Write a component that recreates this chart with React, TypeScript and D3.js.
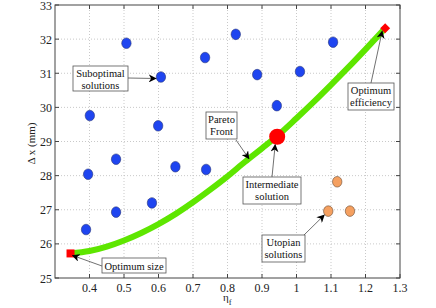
import React from "react";
import * as d3 from "d3";

// suboptimal solutions (eta_f, delta x)
const subEta = [0.507, 0.607, 0.401, 0.599, 0.735, 0.824, 0.886, 1.01, 1.106, 0.943, 0.396, 0.477, 0.39, 0.477, 0.581, 0.649, 0.738];
const subDx = [31.88, 30.89, 29.76, 29.46, 31.46, 32.14, 30.96, 31.05, 31.91, 30.05, 28.04, 28.48, 26.42, 26.93, 27.2, 28.26, 28.18];

// utopian solutions
const utoEta = [1.118, 1.092, 1.155];
const utoDx = [27.82, 26.96, 26.96];

// pareto front
const frontEta = [0.345, 0.4, 0.45, 0.5, 0.55, 0.6, 0.65, 0.7, 0.75, 0.8, 0.85, 0.9, 0.944, 1.0, 1.05, 1.1, 1.15, 1.2, 1.257];
const frontDx = [25.72, 25.79, 25.92, 26.1, 26.32, 26.58, 26.88, 27.22, 27.59, 27.98, 28.4, 28.8, 29.16, 29.68, 30.16, 30.66, 31.17, 31.7, 32.32];

const optSize = [0.345, 25.72];
const optEff = [1.257, 32.32];
const intermediate = [0.944, 29.14];

const xTicks = [0.4, 0.5, 0.6, 0.7, 0.8, 0.9, 1, 1.1, 1.2, 1.3];
const yTicks = [25, 26, 27, 28, 29, 30, 31, 32, 33];

const W = 436;
const H = 308;
const m = { left: 55, right: 36, top: 5, bottom: 30 };

export default function App() {
  const x = d3.scaleLinear().domain([0.3, 1.3]).range([m.left, W - m.right]);
  const y = d3.scaleLinear().domain([25, 33]).range([H - m.bottom, m.top]);
  const x0 = x.range()[0], x1 = x.range()[1];
  const y0 = y.range()[0], y1 = y.range()[1];

  const line = d3
    .line<number>()
    .x((d, i) => x(frontEta[i]))
    .y((d) => y(d))
    .curve(d3.curveMonotoneX);

  const serif = { fontFamily: '"Liberation Serif", "Times New Roman", Times, "DejaVu Serif", serif' };

  // annotation boxes with arrow start (ax, ay) and target point
  const notes = [
    { bx: 73, by: 66, bw: 55, bh: 25, lines: ["Suboptimal", "solutions"], ax: 128, ay: 78, tx: subEta[1], ty: subDx[1], dx: -5, dy: 1.5 },
    { bx: 206, by: 112, bw: 31, bh: 27, lines: ["Pareto", "Front"], ax: 236, ay: 140, tx: 0.862, ty: 28.5, dx: 0, dy: 0 },
    { bx: 243, by: 177, bw: 58, bh: 27, lines: ["Intermediate", "solution"], ax: 272, ay: 177, tx: intermediate[0], ty: intermediate[1], dx: -2, dy: 8 },
    { bx: 348, by: 83, bw: 46, bh: 27, lines: ["Optimum", "efficiency"], ax: 371, ay: 83, tx: optEff[0], ty: optEff[1], dx: -3, dy: 3 },
    { bx: 102, by: 258, bw: 64, bh: 15, lines: ["Optimum size"], ax: 102, ay: 266, tx: optSize[0], ty: optSize[1], dx: 2, dy: 2 },
    { bx: 262, by: 235, bw: 43, bh: 27, lines: ["Utopian", "solutions"], ax: 304, ay: 235, tx: utoEta[1], ty: utoDx[1], dx: -4, dy: 4 },
  ];

  return (
    <svg width={W} height={H} style={{ position: "absolute", left: 0, top: 0, background: "#fff" }}>
      <defs>
        <marker id="arr" viewBox="0 0 10 10" refX="9" refY="5" markerWidth="8" markerHeight="8" orient="auto" markerUnits="userSpaceOnUse">
          <path d="M0,0 L10,5 L0,10 L3,5 z" fill="#000" />
        </marker>
      </defs>
      <rect x={x0} y={y1} width={x1 - x0} height={y0 - y1} fill="#fff" />
      {/* grid */}
      {xTicks.slice(0, -1).map((t) => (
        <line key={"gx" + t} x1={x(t)} x2={x(t)} y1={y0} y2={y1} stroke="#bbb" strokeWidth={0.8} strokeDasharray="1,2" />
      ))}
      {yTicks.slice(1, -1).map((t) => (
        <line key={"gy" + t} x1={x0} x2={x1} y1={y(t)} y2={y(t)} stroke="#bbb" strokeWidth={0.8} strokeDasharray="1,2" />
      ))}
      {/* ticks */}
      {xTicks.map((t) => (
        <g key={"tx" + t}>
          <line x1={x(t)} x2={x(t)} y1={y0} y2={y0 - 4} stroke="#444" />
          <line x1={x(t)} x2={x(t)} y1={y1} y2={y1 + 4} stroke="#444" />
          <text x={x(t)} y={y0 + 13.5} textAnchor="middle" style={serif} fontSize={12} fill="#222">
            {t}
          </text>
        </g>
      ))}
      {yTicks.map((t) => (
        <g key={"ty" + t}>
          <line x1={x0} x2={x0 + 4} y1={y(t)} y2={y(t)} stroke="#444" />
          <line x1={x1} x2={x1 - 4} y1={y(t)} y2={y(t)} stroke="#444" />
          <text x={x0 - 3} y={y(t) + 4.5} textAnchor="end" style={serif} fontSize={12} fill="#222">
            {t}
          </text>
        </g>
      ))}
      <rect x={x0} y={y1} width={x1 - x0} height={y0 - y1} fill="none" stroke="#444" strokeWidth={1} />
      {/* axis labels */}
      <text transform={`translate(35,${(y0 + y1) / 2 + 2}) rotate(-90)`} textAnchor="middle" style={serif} fontSize={11} fill="#222">
        Δ x (mm)
      </text>
      <text x={223} y={301} style={serif} fontSize={11} fill="#222">
        η<tspan dy={3.5} fontSize={8.5}>f</tspan>
      </text>
      {/* pareto front */}
      <path d={line(frontDx) || ""} fill="none" stroke="#5ee600" strokeWidth={6} />
      {/* suboptimal */}
      {subEta.map((e, i) => (
        <ellipse key={"s" + i} cx={x(e)} cy={y(subDx[i])} rx={4.7} ry={5.3} fill="#1f45f0" stroke="#28357a" strokeWidth={0.6} />
      ))}
      {utoEta.map((e, i) => (
        <ellipse key={"u" + i} cx={x(e)} cy={y(utoDx[i])} rx={4.7} ry={5.3} fill="#f5a060" stroke="#6a4a30" strokeWidth={0.6} />
      ))}
      <circle cx={x(intermediate[0])} cy={y(intermediate[1])} r={8} fill="#ff0000" />
      <rect x={x(optSize[0]) - 4} y={y(optSize[1]) - 4} width={8} height={8} fill="#ff0000" />
      <rect x={x(optEff[0]) - 3.5} y={y(optEff[1]) - 3.5} width={7} height={7} fill="#ff0000" transform={`rotate(45,${x(optEff[0])},${y(optEff[1])})`} />
      {/* annotations */}
      {notes.map((n, i) => (
        <g key={"n" + i}>
          <line x1={n.ax} y1={n.ay} x2={x(n.tx) + n.dx} y2={y(n.ty) + n.dy} stroke="#333" strokeWidth={0.7} markerEnd="url(#arr)" />
          <rect x={n.bx} y={n.by} width={n.bw} height={n.bh} fill="#fff" stroke="#555" strokeWidth={0.8} />
          {n.lines.map((l, j) => (
            <text key={j} x={n.bx + n.bw / 2} y={n.by + (n.lines.length === 1 ? 11.5 : 11 + j * 11.5)} textAnchor="middle" style={serif} fontSize={10.5} fill="#111">
              {l}
            </text>
          ))}
        </g>
      ))}
    </svg>
  );
}
